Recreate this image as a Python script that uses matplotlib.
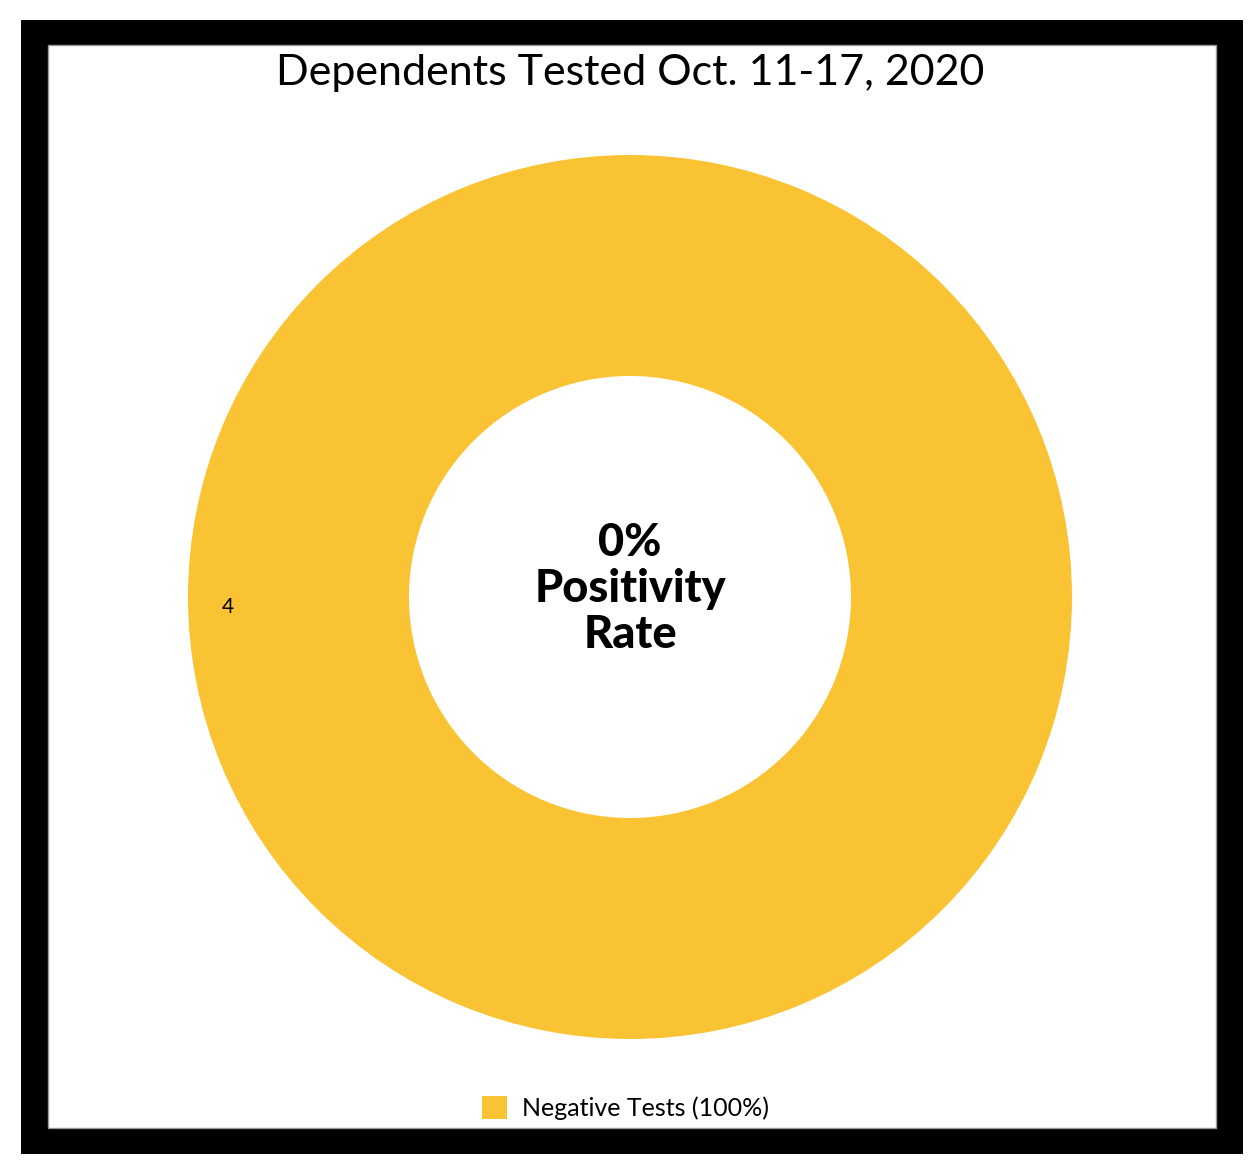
import matplotlib.pyplot as plt
from matplotlib.patches import Rectangle

# Data
labels = ['Negative Tests (100%)']
counts = [4]
colors = ['#F9C333']
title = 'Dependents Tested Oct. 11-17, 2020'
center_text = '0%\nPositivity\nRate'

W, H = 1260, 1174
fig = plt.figure(figsize=(W / 100, H / 100), dpi=100)
plt.rcParams['font.family'] = ['Lato', 'DejaVu Sans']

# Black frame around the chart
fig.patches.append(Rectangle((21 / W, 1 - 1154 / H), 1222 / W, 1134 / H,
                             transform=fig.transFigure, facecolor='black', edgecolor='none', zorder=-3))
fig.patches.append(Rectangle((48 / W, 1 - 1128 / H), 1168 / W, 1083 / H,
                             transform=fig.transFigure, facecolor='white', edgecolor='#999999',
                             linewidth=1, zorder=-2))

# Donut
r = 442
cx, cy = 630, H - 597
ax = fig.add_axes([(cx - r) / W, (cy - r) / H, 2 * r / W, 2 * r / H])
ax.set_zorder(1)
wedges, texts, autotexts = ax.pie(counts, colors=colors, startangle=0, radius=1,
                                  wedgeprops=dict(width=0.5, edgecolor='none'),
                                  autopct=lambda p: '%d' % round(p * sum(counts) / 100),
                                  pctdistance=0.91, textprops=dict(fontsize=15, color='black'))
for t in autotexts:
    t.set_va('top')
ax.set_xlim(-1, 1)
ax.set_ylim(-1, 1)
ax.set_aspect('equal')
ax.axis('off')

ax.text(0, 0.018, center_text, ha='center', va='center', fontsize=32.5, fontweight='black',
        linespacing=1.12)

fig.text(0.5, 1 - 73 / H, title, ha='center', va='center', fontsize=31)

fig.legend(wedges, labels, loc='center', bbox_to_anchor=(625 / W, 1 - 1108 / H),
           frameon=False, fontsize=18, handlelength=1.0, handleheight=1.0, handletextpad=0.6)

plt.savefig('out.png', dpi=100)
plt.close()
